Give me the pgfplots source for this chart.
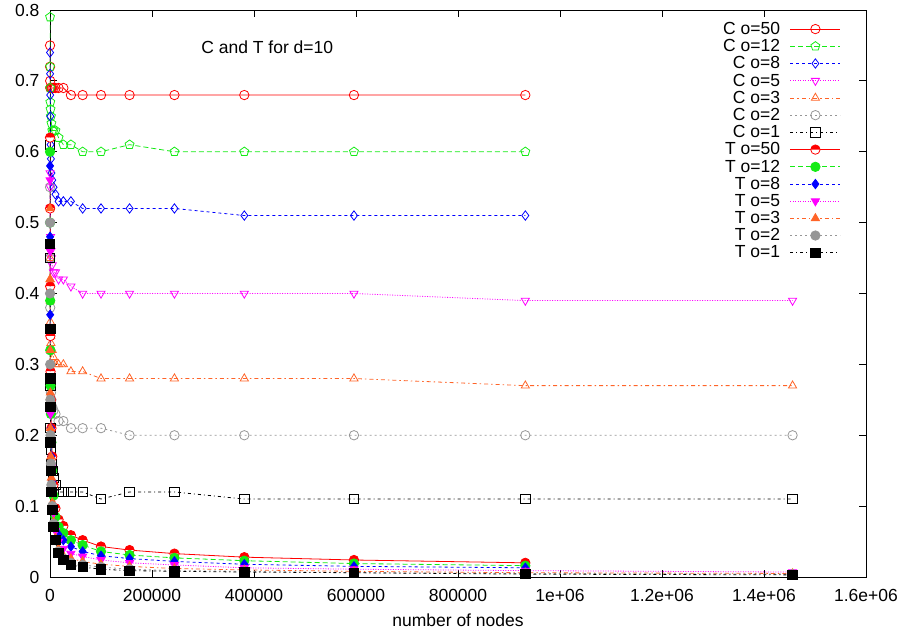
\documentclass[border=0pt]{standalone}
\usepackage{fontspec}
\setmainfont{Liberation Sans}
\usepackage{pgfplots}
\usepackage{pgfplotstable}
\pgfplotsset{compat=1.18}
\usetikzlibrary{plotmarks}
\newcommand{\gf}{\fontsize{17.5}{21}\selectfont}
\definecolor{cgreen}{RGB}{20,235,20}
\definecolor{cblue}{RGB}{0,0,255}
\definecolor{cmag}{RGB}{255,0,255}
\definecolor{corange}{RGB}{255,100,40}
\definecolor{cgrey}{RGB}{150,150,150}

\pgfplotstableread{
x c50 c12 c8 c5 c3 c2 c1 t50 t12 t8 t5 t3 t2 t1
100 0.75 0.79 0.74 0.57 0.45 0.55 0.61 0.62 0.60 0.58 0.56 0.52 0.50 0.47
200 0.72 0.72 0.71 0.55 0.42 0.45 0.45 0.52 0.50 0.48 0.46 0.42 0.40 0.35
400 0.70 0.69 0.68 0.52 0.39 0.38 0.35 0.41 0.39 0.37 0.35 0.32 0.30 0.28
700 0.69 0.67 0.65 0.50 0.36 0.32 0.27 0.34 0.32 0.30 0.28 0.26 0.25 0.24
1100 0.69 0.66 0.61 0.48 0.34 0.28 0.21 0.29 0.27 0.25 0.23 0.21 0.20 0.19
1800 0.69 0.65 0.59 0.46 0.33 0.26 0.18 0.25 0.23 0.21 0.19 0.17 0.16 0.15
2800 0.69 0.64 0.57 0.45 0.32 0.25 0.16 0.21 0.19 0.17 0.155 0.14 0.13 0.12
4400 0.69 0.63 0.56 0.44 0.32 0.24 0.15 0.17 0.15 0.135 0.12 0.105 0.10 0.095
6900 0.69 0.63 0.55 0.43 0.31 0.235 0.14 0.13 0.115 0.10 0.09 0.078 0.075 0.071
10700 0.69 0.63 0.54 0.43 0.30 0.23 0.13 0.097 0.085 0.074 0.065 0.055 0.052 0.052
16800 0.69 0.62 0.53 0.42 0.30 0.22 0.12 0.081 0.071 0.060 0.050 0.040 0.036 0.034
26200 0.69 0.61 0.53 0.42 0.30 0.22 0.12 0.072 0.062 0.052 0.040 0.030 0.026 0.024
41000 0.68 0.61 0.53 0.41 0.29 0.21 0.12 0.059 0.052 0.043 0.033 0.026 0.020 0.017
64000 0.68 0.60 0.52 0.40 0.29 0.21 0.12 0.052 0.045 0.036 0.029 0.022 0.017 0.014
100000 0.68 0.60 0.52 0.40 0.28 0.21 0.11 0.043 0.036 0.030 0.024 0.018 0.014 0.011
156000 0.68 0.61 0.52 0.40 0.28 0.20 0.12 0.038 0.031 0.026 0.020 0.015 0.011 0.009
244000 0.68 0.60 0.52 0.40 0.28 0.20 0.12 0.033 0.027 0.022 0.017 0.012 0.009 0.008
381000 0.68 0.60 0.51 0.40 0.28 0.20 0.11 0.028 0.023 0.018 0.013 0.010 0.008 0.007
596000 0.68 0.60 0.51 0.40 0.28 0.20 0.11 0.024 0.019 0.015 0.011 0.008 0.006 0.006
932000 0.68 0.60 0.51 0.39 0.27 0.20 0.11 0.020 0.016 0.013 0.009 0.006 0.005 0.004
1456000 nan nan nan 0.39 0.27 0.20 0.11 nan nan nan 0.007 0.005 0.004 0.003
}\data

\tikzset{
  ls50/.style={solid},
  ls12/.style={dash pattern=on 5pt off 3pt},
  ls8/.style={dash pattern=on 3pt off 3pt},
  ls5/.style={dash pattern=on 1pt off 1.5pt},
  ls3/.style={dash pattern=on 4pt off 3pt on 1.5pt off 3pt},
  ls2/.style={dash pattern=on 2pt off 3pt},
  ls1/.style={dash pattern=on 3pt off 3pt on 1pt off 3pt},
}

\begin{document}
\begin{tikzpicture}
\begin{axis}[
  at={(0,0)}, anchor=south west,
  scale only axis, width=816pt, height=567pt,
  xmin=0, xmax=1600000, ymin=0, ymax=0.8,
  axis line style={line width=0.8pt},
  tick pos=both, tick align=inside, major tick length=7pt,
  tick style={line width=0.8pt, black},
  xtick={0,200000,400000,600000,800000,1000000,1200000,1400000,1600000},
  xticklabels={0,200000,400000,600000,800000,1e+06,1.2e+06,1.4e+06,1.6e+06},
  ytick={0,0.1,0.2,0.3,0.4,0.5,0.6,0.7,0.8},
  yticklabels={0,0.1,0.2,0.3,0.4,0.5,0.6,0.7,0.8},
  scaled x ticks=false,
  every tick label/.append style={font=\gf},
  xticklabel style={yshift=-9pt},
  yticklabel style={xshift=-7pt},
  xlabel={number of nodes},
  xlabel style={font=\gf, yshift=-5pt},
  every axis plot/.append style={line width=0.8pt, mark size=4.7pt},
  legend plot pos=right,
  legend cell align=right,
  legend image code/.code={\draw[mark repeat=2,mark phase=2] plot coordinates {(0pt,0pt) (25pt,0pt) (50pt,0pt)};},
  legend style={draw=none, fill=none, font=\gf, inner sep=0pt,
    at={(rel axis cs:1,1)}, anchor=north east, xshift=-25pt, yshift=-11pt,
    row sep=1.5pt, column sep=9pt, nodes={inner sep=1pt}},
]
\addplot[red, ls50, mark=o, mark options={solid}] table[x=x,y=c50]{\data};
\addlegendentry{C o=50}
\addplot[cgreen, ls12, mark=pentagon, mark options={solid}] table[x=x,y=c12]{\data};
\addlegendentry{C o=12}
\addplot[cblue, ls8, mark=diamond, mark options={solid}] table[x=x,y=c8]{\data};
\addlegendentry{C o=8}
\addplot[cmag, ls5, mark=triangle, mark options={solid, rotate=180}] table[x=x,y=c5]{\data};
\addlegendentry{C o=5}
\addplot[corange, ls3, mark=triangle, mark options={solid}] table[x=x,y=c3]{\data};
\addlegendentry{C o=3}
\addplot[cgrey, ls2, mark=o, mark options={solid}] table[x=x,y=c2]{\data};
\addlegendentry{C o=2}
\addplot[black, ls1, mark=square, mark options={solid}] table[x=x,y=c1]{\data};
\addlegendentry{C o=1}
\addplot[red, ls50, mark=halfcircle*, mark options={solid, fill=red}] table[x=x,y=t50]{\data};
\addlegendentry{T o=50}
\addplot[cgreen, ls12, mark=*, mark options={solid, fill=cgreen}] table[x=x,y=t12]{\data};
\addlegendentry{T o=12}
\addplot[cblue, ls8, mark=diamond*, mark options={solid, fill=cblue}] table[x=x,y=t8]{\data};
\addlegendentry{T o=8}
\addplot[cmag, ls5, mark=triangle*, mark options={solid, rotate=180, fill=cmag}] table[x=x,y=t5]{\data};
\addlegendentry{T o=5}
\addplot[corange, ls3, mark=triangle*, mark options={solid, fill=corange}] table[x=x,y=t3]{\data};
\addlegendentry{T o=3}
\addplot[cgrey, ls2, mark=*, mark options={solid, fill=cgrey}] table[x=x,y=t2]{\data};
\addlegendentry{T o=2}
\addplot[black, ls1, mark=square*, mark options={solid, fill=black}] table[x=x,y=t1]{\data};
\addlegendentry{T o=1}
\node[font=\gf] at (axis cs:426000,0.748) {C and T for d=10};
\end{axis}
\pgfresetboundingbox
\path[use as bounding box] (-50pt,-56pt) rectangle (847pt,577pt);
\end{tikzpicture}
\end{document}
